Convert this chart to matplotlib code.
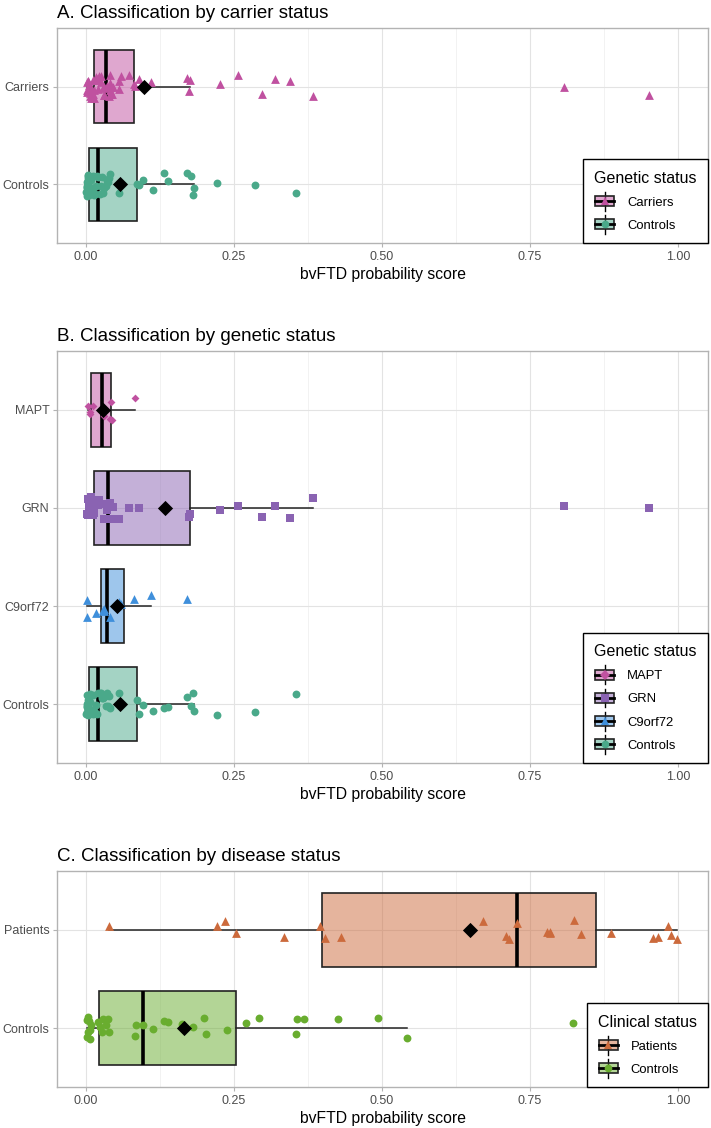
import numpy as np
import matplotlib
matplotlib.use("Agg")
import matplotlib.pyplot as plt
from matplotlib.legend_handler import HandlerBase
from matplotlib.patches import Rectangle
from matplotlib.lines import Line2D
from matplotlib.ticker import MultipleLocator

plt.rcParams['font.family'] = ['Liberation Sans', 'DejaVu Sans']

# bvFTD probability scores
mapt = [0.003, 0.006, 0.007, 0.012, 0.025, 0.030, 0.041, 0.043, 0.044, 0.082]
grn = [0.002, 0.003, 0.004, 0.005, 0.006, 0.008, 0.009, 0.011, 0.013, 0.014,
       0.016, 0.018, 0.020, 0.022, 0.025, 0.030, 0.036, 0.039, 0.041, 0.043,
       0.045, 0.055, 0.072, 0.090, 0.174, 0.176, 0.226, 0.256, 0.298, 0.320,
       0.344, 0.383, 0.808, 0.951]
c9orf72 = [0.001, 0.002, 0.017, 0.028, 0.030, 0.031, 0.040, 0.056, 0.059,
           0.081, 0.110, 0.171]
carriers = mapt + grn + c9orf72
controls = [0.000, 0.001, 0.001, 0.002, 0.002, 0.002, 0.003, 0.003, 0.003,
            0.004, 0.004, 0.004, 0.005, 0.006, 0.007, 0.008, 0.009, 0.010,
            0.011, 0.012, 0.014, 0.015, 0.017, 0.019, 0.021, 0.023, 0.025,
            0.027, 0.029, 0.031, 0.033, 0.035, 0.037, 0.039, 0.041, 0.056,
            0.086, 0.090, 0.097, 0.114, 0.131, 0.139, 0.171, 0.177, 0.180,
            0.183, 0.222, 0.285, 0.354]
patients = [0.038, 0.221, 0.235, 0.253, 0.334, 0.395, 0.403, 0.430, 0.671,
            0.709, 0.715, 0.728, 0.779, 0.783, 0.784, 0.824, 0.836, 0.887,
            0.957, 0.967, 0.983, 0.988, 0.998]
controls_clin = [0.001, 0.002, 0.003, 0.004, 0.005, 0.006, 0.007, 0.008,
                 0.020, 0.024, 0.027, 0.028, 0.033, 0.037, 0.039, 0.083,
                 0.085, 0.097, 0.114, 0.131, 0.139, 0.163, 0.180, 0.199,
                 0.202, 0.238, 0.270, 0.292, 0.354, 0.357, 0.369, 0.425,
                 0.493, 0.542, 0.823]

pink, purple, blue, teal = '#c051a0', '#8a63b2', '#3f8fdb', '#4aa98a'
orange, green = '#cc6a3c', '#69ad2f'

panels = [
    dict(title='A. Classification by carrier status', legend='Genetic status',
         groups=['Carriers', 'Controls'], data=[carriers, controls],
         colors=[pink, teal], markers=['^', 'o'], sizes=[40, 32],
         rect=[57, 28, 708, 243]),
    dict(title='B. Classification by genetic status', legend='Genetic status',
         groups=['MAPT', 'GRN', 'C9orf72', 'Controls'],
         data=[mapt, grn, c9orf72, controls],
         colors=[pink, purple, blue, teal], markers=['D', 's', '^', 'o'],
         sizes=[16, 30, 40, 32], rect=[57, 351, 708, 763]),
    dict(title='C. Classification by disease status', legend='Clinical status',
         groups=['Patients', 'Controls'], data=[patients, controls_clin],
         colors=[orange, green], markers=['^', 'o'], sizes=[40, 32],
         rect=[57, 871, 708, 1087]),
]


class BoxKey:
    def __init__(self, color, marker):
        self.color = color
        self.marker = marker


class BoxKeyHandler(HandlerBase):
    def create_artists(self, legend, h, xd, yd, w, hh, fontsize, trans):
        cx, cy = w / 2 - xd, hh / 2 - yd
        bw, bh = w * 0.9, hh * 0.66
        arts = [Line2D([cx, cx], [cy - hh * 0.62, cy + hh * 0.62], color='black', lw=1.0),
                Rectangle((cx - bw / 2, cy - bh / 2), bw, bh, facecolor=h.color,
                          alpha=0.5, edgecolor='none'),
                Rectangle((cx - bw / 2, cy - bh / 2), bw, bh, facecolor='none',
                          edgecolor='#222222', lw=1.2),
                Line2D([cx - bw / 2, cx + bw / 2], [cy, cy], color='black', lw=2.0),
                Line2D([cx], [cy], marker=h.marker, color=h.color, ms=5.5, mew=0)]
        for a in arts:
            a.set_transform(trans)
        return arts


W, H = 711, 1128
fig = plt.figure(figsize=(W / 100, H / 100), dpi=100)
rng = np.random.default_rng(7)

for p in panels:
    x0, y0, x1, y1 = p['rect']
    ax = fig.add_axes([x0 / W, 1 - y1 / H, (x1 - x0) / W, (y1 - y0) / H])
    n = len(p['groups'])
    pos = np.arange(n)

    bp = ax.boxplot(p['data'], positions=pos, orientation='horizontal', widths=0.75,
                    patch_artist=True, showfliers=False, showcaps=False, whis=1.5,
                    medianprops=dict(color='black', lw=2.6),
                    boxprops=dict(edgecolor='#222222', lw=1.2),
                    whiskerprops=dict(color='#222222', lw=1.1), zorder=2)
    for patch, c in zip(bp['boxes'], p['colors']):
        patch.set_facecolor(matplotlib.colors.to_rgba(c, 0.5))

    for i, (vals, c, m, s) in enumerate(zip(p['data'], p['colors'], p['markers'], p['sizes'])):
        yj = i + rng.uniform(-0.12, 0.12, len(vals))
        ax.scatter(vals, yj, s=s, marker=m, color=c, linewidths=0, zorder=3)
        ax.scatter([np.mean(vals)], [i], s=60, marker='D', color='black',
                   linewidths=0, zorder=4)

    ax.set_xlim(-0.049, 1.0507)
    ax.set_ylim(n - 1 + 0.6, -0.6)
    ax.set_yticks(pos)
    ax.set_yticklabels(p['groups'])
    ax.xaxis.set_major_locator(MultipleLocator(0.25))
    ax.xaxis.set_minor_locator(MultipleLocator(0.125))
    ax.xaxis.set_major_formatter(matplotlib.ticker.FormatStrFormatter('%.2f'))
    ax.grid(which='major', color='#e3e3e3', lw=0.8, zorder=0)
    ax.grid(which='minor', axis='x', color='#f0f0f0', lw=0.6, zorder=0)
    ax.set_axisbelow(True)
    ax.tick_params(which='major', length=3, color='#b3b3b3', labelcolor='#4d4d4d',
                   labelsize=9.0, width=0.8, pad=2.5)
    ax.tick_params(which='minor', length=0)
    for sp in ax.spines.values():
        sp.set_color('#b3b3b3')
        sp.set_linewidth(1.0)
    ax.set_xlabel('bvFTD probability score', fontsize=11.3, labelpad=3)
    ax.set_title(p['title'], loc='left', fontsize=13.5, pad=7)

    handles = [BoxKey(c, m) for c, m in zip(p['colors'], p['markers'])]
    leg = ax.legend(handles, p['groups'], title=p['legend'], loc='lower right',
                    handler_map={BoxKey: BoxKeyHandler()}, fontsize=9.4,
                    title_fontsize=11.5, alignment='left', fancybox=False,
                    framealpha=1, edgecolor='black', borderaxespad=0,
                    handlelength=1.6, handleheight=1.4, labelspacing=0.62,
                    borderpad=0.85, handletextpad=0.9)
    leg.get_frame().set_linewidth(1.0)
    leg.set_zorder(10)

fig.savefig('out.png', dpi=100)
